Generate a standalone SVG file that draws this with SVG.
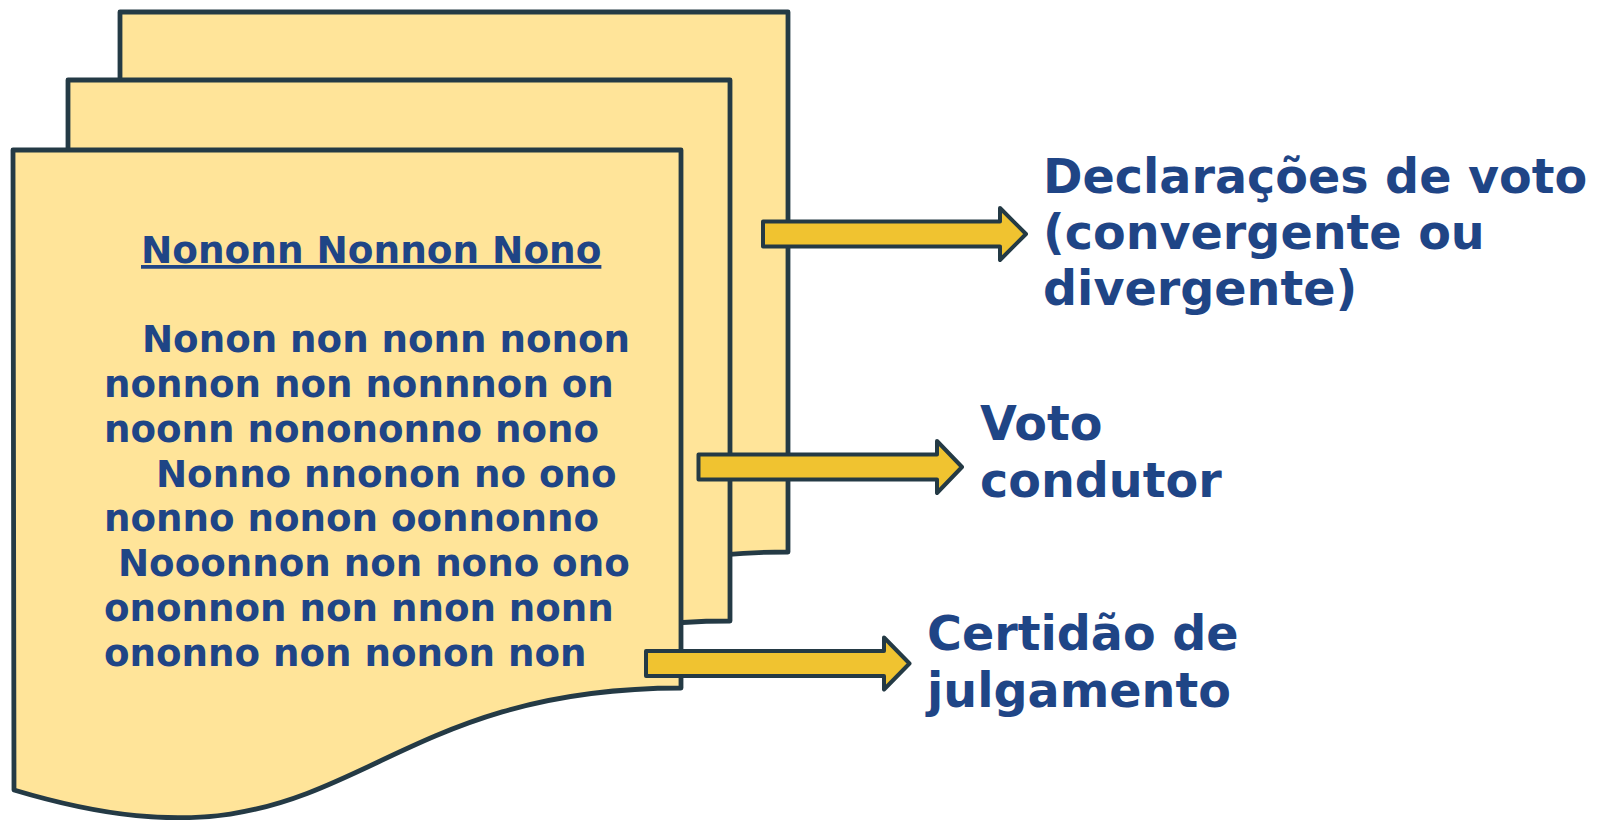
<svg xmlns="http://www.w3.org/2000/svg" width="1606" height="820" viewBox="0 0 1606 820">
<style>
.page{fill:#FFE499;stroke:#243A45;stroke-width:4.8;stroke-linejoin:round}
.arrow{fill:#F0C330;stroke:#243A45;stroke-width:4;stroke-linejoin:round}
.t{font-family:"DejaVu Sans",Verdana,sans-serif;font-weight:bold;fill:#1F4586}
.body{font-size:37.2px}
.ttl{font-size:37.4px}
.lbl{font-size:47.6px}
</style>
<rect width="1606" height="820" fill="#FFFFFF"/>
<g id="page-back">
<path class="page" d="M120,12 H788 V552 C454,552 454,754 120,654 Z"/>
</g>
<g id="page-middle">
<path class="page" d="M68,80 H730 V621 C399,621 399,822 68,722 Z"/>
</g>
<g id="page-front">
<path class="page" d="M13,150 H681 V688 C347,688 347,890 14,790 Z"/>
<text class="t ttl" x="141" y="263" text-decoration="underline">Nononn Nonnon Nono</text>
<text class="t body" x="142" y="352">Nonon non nonn nonon</text>
<text class="t body" x="104" y="397">nonnon non nonnnon on</text>
<text class="t body" x="104" y="441.5">noonn nonononno nono</text>
<text class="t body" x="156" y="486.5">Nonno nnonon no ono</text>
<text class="t body" x="104" y="531">nonno nonon oonnonno</text>
<text class="t body" x="118" y="576">Nooonnon non nono ono</text>
<text class="t body" x="104" y="620.5">ononnon non nnon nonn</text>
<text class="t body" x="104" y="665.5">ononno non nonon non</text>
</g>
<g id="connectors">
<path class="arrow" d="M763,221.5 H1000 V208 L1026,234 L1000,260 V246.5 H763 Z"/>
<path class="arrow" d="M698.5,454.5 H937 V441 L962,467 L937,493 V479.5 H698.5 Z"/>
<path class="arrow" d="M646,651 H884 V637.5 L909.5,663.5 L884,689.5 V676 H646 Z"/>
</g>
<g id="label-declaracoes">
<text class="t lbl" x="1043" y="193">Declarações de voto</text>
<text class="t lbl" x="1043" y="249">(convergente ou</text>
<text class="t lbl" x="1043" y="305">divergente)</text>
</g>
<g id="label-voto">
<text class="t lbl" x="980" y="440">Voto</text>
<text class="t lbl" x="980" y="497">condutor</text>
</g>
<g id="label-certidao">
<text class="t lbl" x="927" y="650">Certidão de</text>
<text class="t lbl" x="927" y="707">julgamento</text>
</g>
</svg>
